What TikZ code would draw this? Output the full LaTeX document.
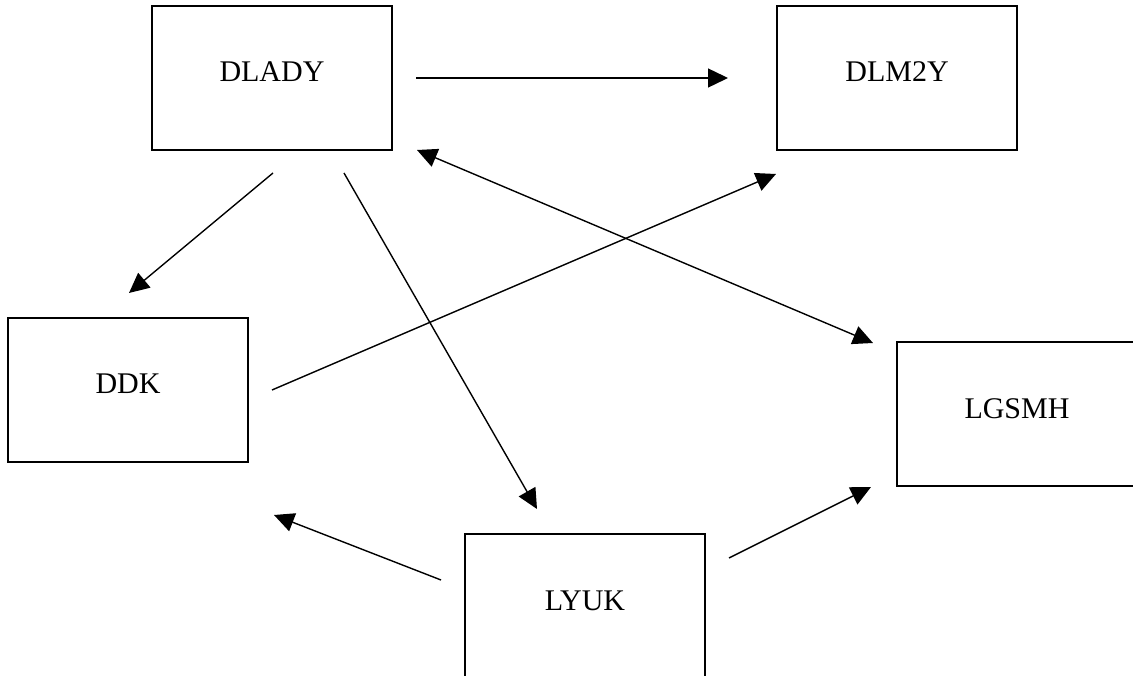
\documentclass[tikz,border=0pt]{standalone}
\usepackage{fontspec}
\setmainfont{Liberation Serif}
\usetikzlibrary{arrows.meta}
\begin{document}
\begin{tikzpicture}[x=1pt,y=-1pt,
  box/.style={draw=black,line width=2pt,rectangle,minimum width=240pt,minimum height=144pt,inner sep=0pt,
    font=\fontsize{30pt}{36pt}\selectfont,text height=20pt,text depth=12pt},
  conn/.style={line width=1.4pt,-{Triangle[length=20pt,width=19pt]}},
  dconn/.style={line width=1.4pt,{Triangle[length=20pt,width=19pt]}-{Triangle[length=20pt,width=19pt]}}]
\clip (0,0) rectangle (1133,676);
\useasboundingbox (0,0) rectangle (1133,676);
\node[box] (dlady) at (272,78) {DLADY};
\node[box] (dlm2y) at (897,78) {DLM2Y};
\node[box] (ddk) at (128,390) {DDK};
\node[box] (lgsmh) at (1017,414) {LGSMH};
\node[box] (lyuk) at (585,606) {LYUK};
% connector end points
\coordinate (a1) at (416,78);   \coordinate (b1) at (728,78);
\coordinate (a2) at (273,173);  \coordinate (b2) at (129,293);
\coordinate (a3) at (344,173);  \coordinate (b3) at (537,509);
\coordinate (a4) at (272,390);  \coordinate (b4) at (776,174);
\coordinate (a5) at (417,150);  \coordinate (b5) at (873,343);
\coordinate (a6) at (441,580);  \coordinate (b6) at (274,515);
\coordinate (a7) at (729,558);  \coordinate (b7) at (871,487);
\draw[conn] (a1) -- (b1);
\draw[conn] (a2) -- (b2);
\draw[conn] (a3) -- (b3);
\draw[conn] (a4) -- (b4);
\draw[dconn] (a5) -- (b5);
\draw[conn] (a6) -- (b6);
\draw[conn] (a7) -- (b7);
\end{tikzpicture}
\end{document}
